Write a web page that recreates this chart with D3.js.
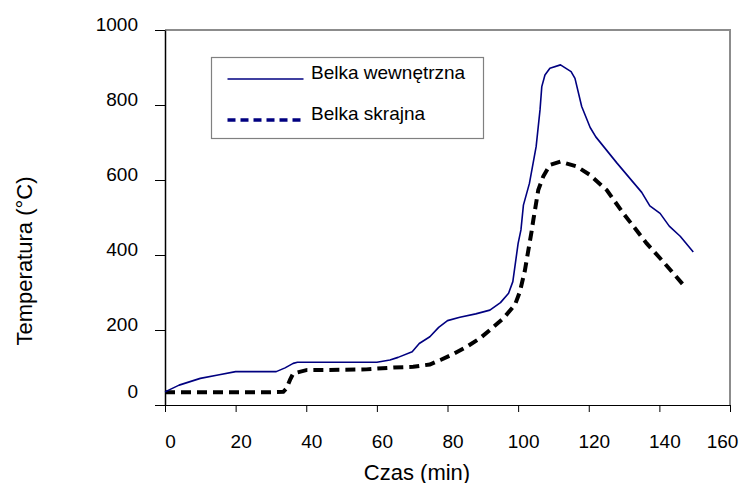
<!DOCTYPE html>
<html>
<head>
<meta charset="utf-8">
<script src="https://cdn.jsdelivr.net/npm/d3@7"></script>
<style>
  body { margin: 0; background: #fff; }
  svg { display: block; }
  text { font-family: "Liberation Sans", Arial, sans-serif; fill: #000; }
</style>
</head>
<body>
<svg id="chart"></svg>
<script>
// Dane
const timeTicks = [0, 20, 40, 60, 80, 100, 120, 140, 160];
const tempTicks = [0, 200, 400, 600, 800, 1000];
const seriesNames = ["Belka wewnętrzna", "Belka skrajna"];

// Belka wewnętrzna (linia ciągła)
const innerTime = [0, 4, 10, 15, 20, 25, 31.5, 34, 36.3, 37.5, 45, 55, 60, 63.7, 66, 70, 72, 75, 77.5, 80,
  83.5, 88, 92, 95, 97.3, 98.5, 100, 100.8, 101.5, 103.2, 105.1, 106.2, 106.7, 107.6, 109, 112, 115, 116.1,
  118, 120.4, 122, 128, 135, 137.3, 140.2, 142.8, 145.9, 149.6];
const innerTemp = [35, 53, 71, 80, 89, 89, 89, 99, 111, 114, 114, 114, 114, 120, 127, 142, 164, 182, 207, 225,
  234, 243, 253, 273, 298, 329, 431, 467, 533, 591, 689, 787, 849, 880, 898, 907, 889, 871,
  796, 740, 715, 645, 567, 531, 511, 477, 450, 408];

// Belka skrajna (linia przerywana)
const edgeTime = [0, 10, 20, 30, 33.5, 34.4, 35.4, 36.3, 40, 50, 57, 64.7, 70.3, 75, 78, 81, 85.4, 89.2, 92,
  95.8, 99.1, 100.5, 101.9, 102.9, 103.8, 104.3, 105.7, 107.1, 109, 112, 116.6, 120.4, 125.1, 129.8, 136.4,
  141.1, 147];
const edgeTemp = [34, 34, 34, 34, 35, 44, 67, 84, 93, 94, 95, 100, 102, 108, 120, 133, 155, 178, 200,
  231, 267, 302, 358, 413, 462, 493, 573, 609, 640, 649, 636, 613, 573, 511, 431,
  382, 318];

const width = 741, height = 483;
const margin = { top: 30, right: 11, bottom: 78, left: 165 };
const innerWidth = width - margin.left - margin.right;
const innerHeight = height - margin.top - margin.bottom;

const svg = d3.select("#chart").attr("width", width).attr("height", height);
svg.append("rect").attr("width", width).attr("height", height).attr("fill", "#fff");

const g = svg.append("g").attr("transform", `translate(${margin.left},${margin.top})`);

const x = d3.scaleLinear().domain([0, 160]).range([0, innerWidth]);
const y = d3.scaleLinear().domain([0, 1000]).range([innerHeight, 0]);

// Ramka obszaru wykresu (góra i prawa strona, szara)
g.append("path")
  .attr("d", `M0,0H${innerWidth}V${innerHeight}`)
  .attr("fill", "none")
  .attr("stroke", "#8c8c8c")
  .attr("stroke-width", 2);

// Oś Y
const yAxis = g.append("g")
  .call(d3.axisLeft(y).tickValues(tempTicks).tickFormat(d3.format("d"))
    .tickSize(10).tickSizeOuter(0).tickPadding(17));
yAxis.select(".domain").attr("stroke", "#000").attr("stroke-width", 1.5);
yAxis.selectAll(".tick line").attr("stroke", "#000");
yAxis.selectAll(".tick text")
  .style("font-size", "19px")
  .attr("dy", d => d === 0 ? -8 : 0);

// Oś X
const xAxis = g.append("g")
  .attr("transform", `translate(0,${innerHeight})`)
  .call(d3.axisBottom(x).tickValues(timeTicks).tickFormat(d3.format("d"))
    .tickSize(7).tickSizeOuter(0));
xAxis.select(".domain").attr("stroke", "#000");
xAxis.selectAll(".tick line").attr("stroke", "#000");
xAxis.selectAll(".tick text")
  .style("font-size", "19px")
  .attr("y", 43)
  .attr("dy", 0)
  .attr("dx", d => d === 160 ? -8 : 5);

// Tytuły osi
svg.append("text")
  .attr("text-anchor", "middle")
  .attr("transform", `translate(32,261) rotate(-90)`)
  .style("font-size", "22px")
  .text("Temperatura (°C)");

svg.append("text")
  .attr("text-anchor", "middle")
  .attr("x", 417)
  .attr("y", 480)
  .style("font-size", "22px")
  .text("Czas (min)");

// Linie
const line = d3.line().x(d => x(d[0])).y(d => y(d[1]));

g.append("path")
  .datum(d3.zip(edgeTime, edgeTemp))
  .attr("fill", "none")
  .attr("stroke", "#000")
  .attr("stroke-width", 4)
  .attr("stroke-dasharray", "10,6")
  .attr("d", line);

g.append("path")
  .datum(d3.zip(innerTime, innerTemp))
  .attr("fill", "none")
  .attr("stroke", "#000080")
  .attr("stroke-width", 1.6)
  .attr("stroke-linejoin", "round")
  .attr("d", line);

// Legenda
const legend = svg.append("g").attr("transform", "translate(211.5,57.5)");
legend.append("rect")
  .attr("width", 272)
  .attr("height", 81)
  .attr("fill", "#fff")
  .attr("stroke", "#808080")
  .attr("stroke-width", 1.2);

const legendStyles = [
  { dash: null, width: 1.6 },
  { dash: "8,5", width: 3.5 }
];
seriesNames.forEach((name, i) => {
  const ly = 21.5 + i * 41;
  legend.append("line")
    .attr("x1", 16).attr("x2", 92)
    .attr("y1", ly).attr("y2", ly)
    .attr("stroke", "#000080")
    .attr("stroke-width", legendStyles[i].width)
    .attr("stroke-dasharray", legendStyles[i].dash);
  legend.append("text")
    .attr("x", 99.5)
    .attr("y", ly)
    .style("font-size", "19px")
    .text(name);
});
</script>
</body>
</html>
